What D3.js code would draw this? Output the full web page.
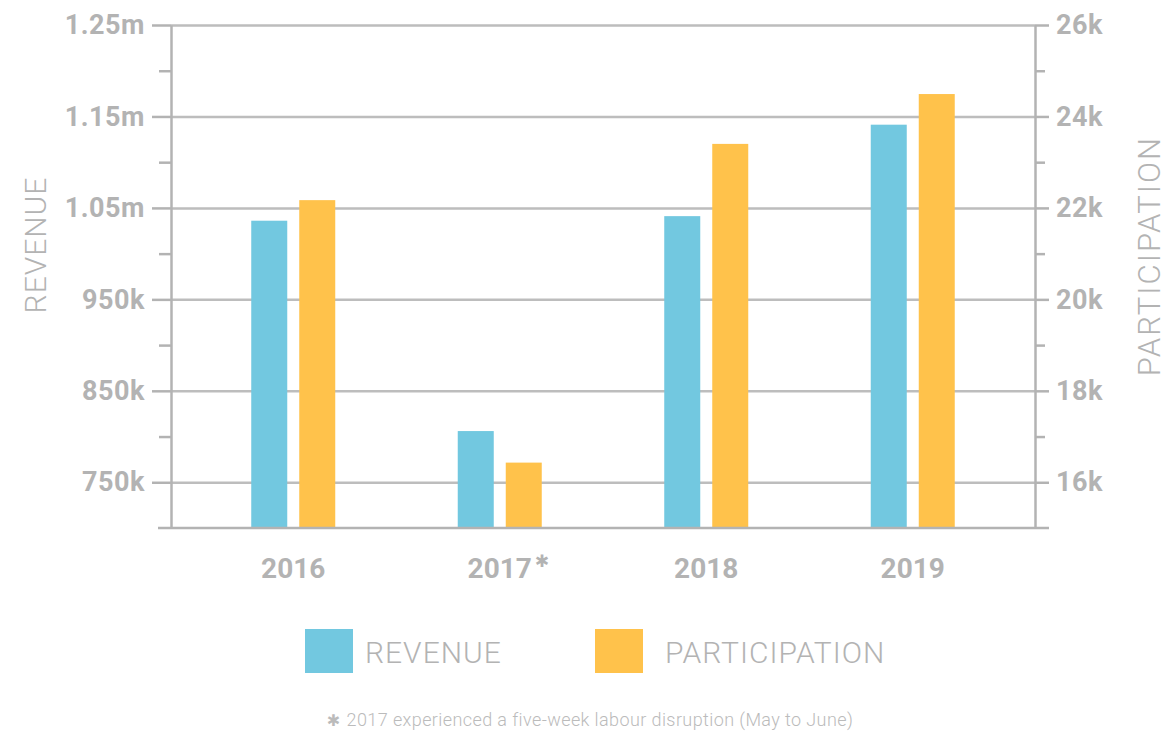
<!DOCTYPE html>
<html>
<head>
    <meta charset="utf-8">
    <title>Revenue and Participation</title>
    <style>
        body { margin: 0; background: #fff; }
        text { font-family: Roboto, "Liberation Sans", sans-serif; }
    </style>
</head>
<body>

    <script src="https://d3js.org/d3.v7.min.js"></script>
    <script type="text/javascript">

    // values
    var years = ["2016", "2017", "2018", "2019"];
    var yearNotes = ["", "*", "", ""];
    var revenue = [1036000, 806000, 1041000, 1141000];
    var participation = [22170, 16430, 23400, 24490];
    var revenueTicks = [750000, 850000, 950000, 1050000, 1150000, 1250000];
    var revenueMinor = [700000, 800000, 900000, 1000000, 1100000, 1200000];
    var partTicks = [16000, 18000, 20000, 22000, 24000, 26000];
    var partMinor = [15000, 17000, 19000, 21000, 23000, 25000];
    var series = ["REVENUE", "PARTICIPATION"];
    var footnote = "2017 experienced a five-week labour disruption (May to June)";

    var colors = {REVENUE: "#72c8e0", PARTICIPATION: "#ffc24b"};
    var grey = "#b3b3b3";

    var width = 1167, height = 734;
    var plot = {left: 171, right: 1035, top: 25, bottom: 528};

    var svg = d3.select("body")
        .append("svg")
        .attr("width", width)
        .attr("height", height);

    var x = d3.scaleBand().domain(years)
        .range([plot.left, plot.right])
        .paddingInner(0).paddingOuter(0.092);
    var xs = d3.scaleBand().domain(series).range([-42, 42]).paddingInner(0.25);

    var yL = d3.scaleLinear().domain([700000, 1250000]).range([plot.bottom, plot.top]);
    var yR = d3.scaleLinear().domain([15000, 26000]).range([plot.bottom, plot.top]);

    var fmtL = function(d) {
        return d >= 1000000 ? d3.format(".2f")(d / 1000000) + "m" : (d / 1000) + "k";
    };
    var fmtR = function(d) { return (d / 1000) + "k"; };

    // gridlines
    svg.append("g")
        .attr("transform", "translate(" + plot.left + ",0)")
        .call(d3.axisLeft(yL).tickValues(revenueTicks).tickSize(-(plot.right - plot.left)).tickFormat(""))
        .call(function(g) { g.select(".domain").remove(); })
        .selectAll("line").attr("stroke", "#bdbdbd").attr("stroke-width", 2.5);

    // bars
    var rows = years.map(function(y, i) {
        return {year: y, REVENUE: revenue[i], PARTICIPATION: participation[i]};
    });
    var groups = svg.append("g").selectAll("g")
        .data(rows)
        .join("g")
        .attr("transform", function(d) { return "translate(" + (x(d.year) + x.bandwidth() / 2) + ",0)"; });

    groups.selectAll("rect")
        .data(function(d) { return series.map(function(s) { return {key: s, value: d[s]}; }); })
        .join("rect")
        .attr("x", function(d) { return xs(d.key); })
        .attr("width", xs.bandwidth())
        .attr("y", function(d) { return d.key === "REVENUE" ? yL(d.value) : yR(d.value); })
        .attr("height", function(d) { return plot.bottom - (d.key === "REVENUE" ? yL(d.value) : yR(d.value)); })
        .attr("fill", function(d) { return colors[d.key]; });

    // left axis
    var left = svg.append("g")
        .attr("transform", "translate(" + plot.left + ",0)")
        .call(d3.axisLeft(yL).tickValues(revenueTicks).tickSizeInner(19).tickSizeOuter(0).tickPadding(7).tickFormat(fmtL));
    svg.append("g")
        .attr("transform", "translate(" + plot.left + ",0)")
        .call(d3.axisLeft(yL).tickValues(revenueMinor.slice(1)).tickSize(12).tickFormat(""))
        .call(function(g) { g.select(".domain").remove(); })
        .selectAll("line").attr("stroke", grey).attr("stroke-width", 2.5);

    // right axis
    var right = svg.append("g")
        .attr("transform", "translate(" + plot.right + ",0)")
        .call(d3.axisRight(yR).tickValues(partTicks).tickSizeInner(14).tickSizeOuter(0).tickPadding(7).tickFormat(fmtR));
    svg.append("g")
        .attr("transform", "translate(" + plot.right + ",0)")
        .call(d3.axisRight(yR).tickValues(partMinor.slice(1)).tickSize(10).tickFormat(""))
        .call(function(g) { g.select(".domain").remove(); })
        .selectAll("line").attr("stroke", grey).attr("stroke-width", 2.5);

    [left, right].forEach(function(g) {
        g.select(".domain").attr("stroke", grey).attr("stroke-width", 2.5);
        g.selectAll(".tick line").attr("stroke", grey).attr("stroke-width", 2.5);
        g.selectAll(".tick text")
            .attr("fill", grey)
            .style("font-size", "27px")
            .style("font-weight", "700")
            .style("letter-spacing", "0.5px");
    });

    // baseline
    svg.append("line")
        .attr("x1", plot.left - 13).attr("x2", plot.right + 14)
        .attr("y1", plot.bottom).attr("y2", plot.bottom)
        .attr("stroke", grey).attr("stroke-width", 2.5);

    // year labels
    svg.append("g").selectAll("text")
        .data(years)
        .join("text")
        .attr("x", function(d) { return x(d) + x.bandwidth() / 2; })
        .attr("y", 578)
        .attr("text-anchor", "middle")
        .attr("fill", grey)
        .style("font-size", "28px")
        .style("font-weight", "700")
        .text(function(d) { return d; });

    svg.append("g").selectAll("text")
        .data(years.filter(function(d, i) { return yearNotes[i]; }))
        .join("text")
        .attr("x", function(d) { return x(d) + x.bandwidth() / 2 + 35; })
        .attr("y", 567)
        .attr("fill", grey)
        .style("font-family", "DejaVu Sans")
        .style("font-weight", "700")
        .style("font-size", "17px")
        .text("\u2731");

    // axis titles
    svg.append("text")
        .attr("transform", "translate(46,245) rotate(-90)")
        .attr("text-anchor", "middle")
        .attr("fill", grey)
        .style("font-size", "30px")
        .style("font-weight", "300")
        .style("letter-spacing", "1px")
        .text("REVENUE");

    svg.append("text")
        .attr("transform", "translate(1160,256) rotate(-90)")
        .attr("text-anchor", "middle")
        .attr("fill", grey)
        .style("font-size", "31px")
        .style("font-weight", "300")
        .style("letter-spacing", "2px")
        .text("PARTICIPATION");

    // legend
    var legendX = [305, 595];
    var legend = svg.append("g").selectAll("g")
        .data(series)
        .join("g")
        .attr("transform", function(d, i) { return "translate(" + legendX[i] + ",629)"; });
    legend.append("rect")
        .attr("width", 48).attr("height", 44)
        .attr("fill", function(d) { return colors[d]; });
    legend.append("text")
        .attr("x", function(d, i) { return i === 0 ? 60 : 70; })
        .attr("y", 34)
        .attr("fill", grey)
        .style("font-size", "30px")
        .style("font-weight", "300")
        .style("letter-spacing", "1px")
        .text(function(d) { return d; });

    // footnote
    var fn = svg.append("text")
        .attr("x", 590)
        .attr("y", 726)
        .attr("text-anchor", "middle")
        .attr("fill", "#bbbbbb")
        .style("font-size", "18px")
        .style("font-weight", "300")
        .style("letter-spacing", "0.4px");
    fn.append("tspan").style("font-family", "DejaVu Sans").style("font-size", "16px").style("font-weight", "700").text("\u2731 ");
    fn.append("tspan").text(footnote);

    </script>
</body>
</html>
